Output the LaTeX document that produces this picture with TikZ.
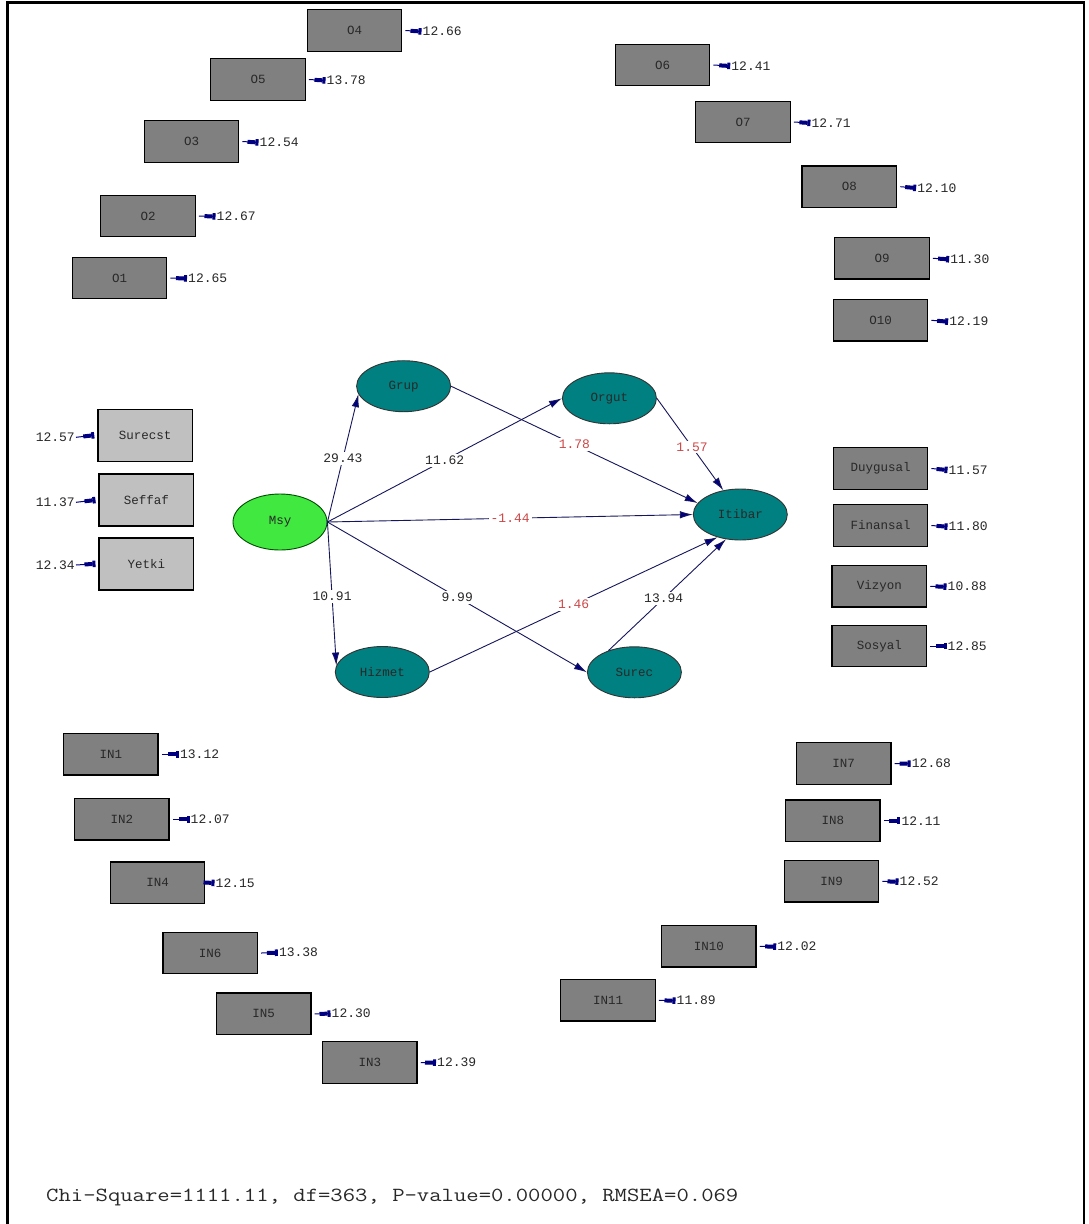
\documentclass[tikz,border=0pt]{standalone}
\usepackage{fontspec}
\usepackage{graphicx}
\usetikzlibrary{shapes.geometric,arrows.meta}
\newfontfamily\dmono{Liberation Mono}

\definecolor{pathcol}{RGB}{22,22,92}
\definecolor{tipcol}{RGB}{0,0,128}
\definecolor{obsdark}{RGB}{128,128,128}
\definecolor{obslight}{RGB}{192,192,192}
\definecolor{latteal}{RGB}{0,128,128}
\definecolor{latgreen}{RGB}{64,232,64}
\definecolor{negred}{RGB}{204,72,72}
\definecolor{txt}{RGB}{40,40,40}

\tikzset{
  obs/.style={draw=black, line width=1.4pt, fill=obsdark, minimum width=94.5pt,
    minimum height=41.5pt, inner sep=0pt, font=\dmono\fontsize{12.5}{14}\selectfont, text=txt},
  obsl/.style={obs, fill=obslight, minimum height=52pt},
  lat/.style={ellipse, draw=black!80, line width=0.9pt, fill=latteal, minimum width=94pt,
    minimum height=51pt, inner sep=0pt, font=\dmono\fontsize{12.5}{14}\selectfont, text=txt},
  errval/.style={inner sep=1pt, font=\dmono\fontsize{13}{15}\selectfont, text=txt},
  errarrow/.style={draw=tipcol, line width=1pt,
    -{Rectangle[length=8pt,width=4pt,fill=tipcol]Rectangle[length=3pt,width=6.5pt,fill=tipcol]}},
  pathline/.style={draw=pathcol, line width=0.9pt, -{Latex[length=13pt,width=7.5pt,fill=tipcol]}},
  coef/.style={fill=white, inner sep=2pt, font=\dmono\fontsize{13}{15}\selectfont, text=txt},
  coefneg/.style={coef, text=negred},
}

\begin{document}
\begin{tikzpicture}[x=1pt,y=-1pt]
\useasboundingbox (0,0) rectangle (1088,1224);
\fill[white] (0,0) rectangle (1088,1224);

% outer frame (open at the bottom)
\draw[line width=2.2pt] (7.5,1224) -- (7.5,2.5) -- (1084.2,2.5) -- (1084.2,1224);

% ---------- latent variables ----------
\node[lat, fill=latgreen, draw=black!70!green, minimum height=56pt] (Msy) at (280,522) {Msy};
\node[lat] (Grup)   at (403.6,386.2) {Grup};
\node[lat] (Orgut)  at (609.4,398.3) {Orgut};
\node[lat] (Itibar) at (740.3,514.5) {Itibar};
\node[lat] (Hizmet) at (382.3,672)   {Hizmet};
\node[lat] (Surec)  at (634.4,672.3) {Surec};

% ---------- structural paths ----------
\draw[pathline] (Msy.east) -- node[coef] {29.43} (Grup.190);
\draw[pathline] (Msy.east) -- node[coef] {11.62} (Orgut.west);
\draw[pathline] (Msy.east) -- node[coefneg] {-1.44} (Itibar.west);
\draw[pathline] (Msy.east) -- node[coef, pos=0.52] {10.91} (Hizmet.172);
\draw[pathline] (Msy.east) -- node[coef] {9.99} (Surec.west);
\draw[pathline] (Grup.east) -- node[coefneg] {1.78} (Itibar.165);
\draw[pathline] (Orgut.east) -- node[coefneg, pos=0.53] {1.57} (Itibar.125);
\draw[pathline] (Hizmet.east) -- node[coefneg] {1.46} (Itibar.225);
\draw[pathline] (Surec.140) -- node[coef, pos=0.47] {13.94} (Itibar.240);

% ---------- indicators of Msy (left) ----------
\node[obsl] (Surecst) at (145.2,435.2) {Surecst};
\node[obsl] (Seffaf)  at (146.4,500)   {Seffaf};
\node[obsl] (Yetki)   at (146.4,563.8) {Yetki};
\node[errval, anchor=east] (eSurecst) at (76,437.3) {12.57};
\node[errval, anchor=east] (eSeffaf)  at (76,502.3) {11.37};
\node[errval, anchor=east] (eYetki)   at (76,565)   {12.34};
\draw[errarrow] (eSurecst.east) -- ([xshift=-3pt]Surecst.west);
\draw[errarrow] (eSeffaf.east)  -- ([xshift=-3pt]Seffaf.west);
\draw[errarrow] (eYetki.east)   -- ([xshift=-3pt]Yetki.west);

% ---------- indicators with error values on the right ----------
\foreach \n/\cx/\cy/\vx/\vy/\v in {
  O4/354.5/30.5/421.5/31.5/12.66,
  O5/258/79.5/325.5/80.5/13.78,
  O3/191.5/141.5/258.5/142.5/12.54,
  O2/148/216/215.5/216.5/12.67,
  O1/119.5/278/187/278.5/12.65,
  O6/662.5/65/730.2/66/12.41,
  O7/743/122/810.4/123/12.71,
  O8/849.4/186.7/916.1/188/12.10,
  O9/882/258.3/949.1/259.3/11.30,
  O10/880.5/320.3/948.1/321.7/12.19,
  Duygusal/880.5/468.5/947.5/470/11.57,
  Finansal/880.5/525.5/947.5/526.7/11.80,
  Vizyon/879.3/586.3/946.5/586.7/10.88,
  Sosyal/879.3/646/946.5/646/12.85,
  IN1/110.9/754.3/178.9/754.3/13.12,
  IN2/121.8/819.3/189.5/819.3/12.07,
  IN4/157.5/882.7/214.5/883/12.15,
  IN6/210.2/953/277.8/952.7/13.38,
  IN5/263.6/1013.8/330.5/1013.7/12.30,
  IN3/369.8/1062.5/436/1062.7/12.39,
  IN7/843.6/763.5/910.7/763.7/12.68,
  IN8/832.9/820.7/900.3/820.7/12.11,
  IN9/831.5/881.3/898.5/881.7/12.52,
  IN10/708.8/946.3/776.2/946.7/12.02,
  IN11/608/1000.3/675.5/1000.7/11.89}{
  \node[obs] (\n) at (\cx,\cy) {\n};
  \node[errval, anchor=west] (e\n) at (\vx,\vy) {\v};
  \draw[errarrow] ([xshift=3pt]\n.east) -- (e\n.west);
}

% ---------- fit statistics ----------
\node[anchor=west, inner sep=0pt, text=txt] (fit) at (46,1197)
  {\ttfamily\fontsize{20}{24}\selectfont\scalebox{1.2}[1]{Chi-Square=1111.11, df=363, P-value=0.00000, RMSEA=0.069}};
\end{tikzpicture}
\end{document}
